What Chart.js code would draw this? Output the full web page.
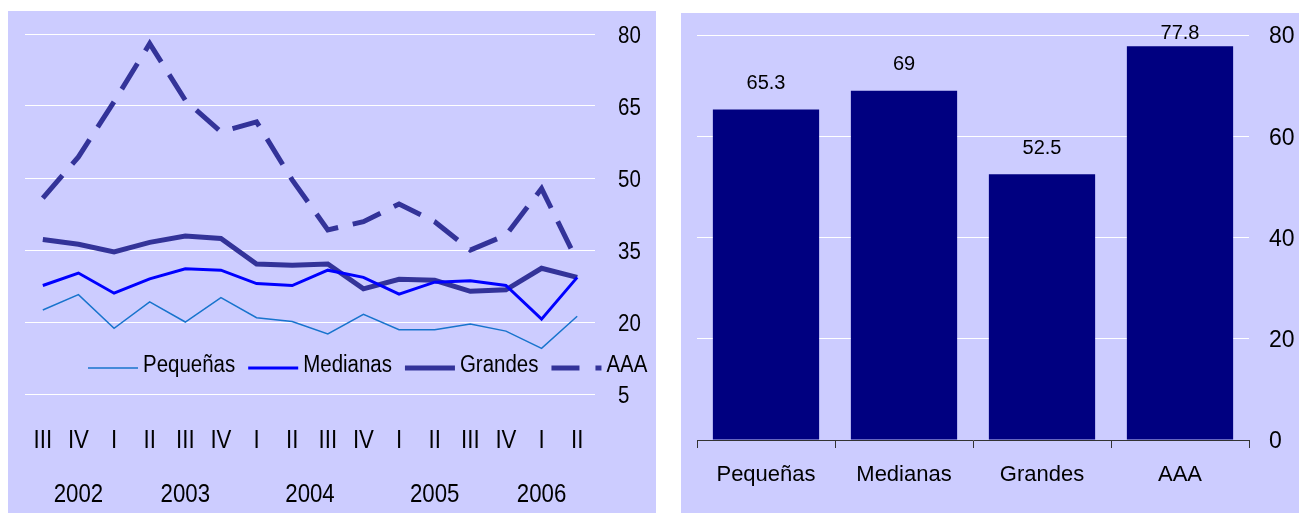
<!DOCTYPE html>
<html>
<head>
<meta charset="utf-8">
<script src="https://cdn.jsdelivr.net/npm/chart.js@4.4.1/dist/chart.umd.min.js"></script>
<style>
html, body { margin: 0; padding: 0; background: #fff; width: 1299px; height: 513px; overflow: hidden; }
.panel { position: absolute; background: #ccccff; }
#left { left: 8px; top: 11px; width: 648px; height: 502px; }
#right { left: 681px; top: 13px; width: 618px; height: 500px; }
canvas { display: block; }
</style>
</head>
<body>
<div class="panel" id="left"><canvas id="lines"></canvas></div>
<div class="panel" id="right"><canvas id="bars"></canvas></div>
<script>
// left chart: quarterly series
const quarters = ['III', 'IV', 'I', 'II', 'III', 'IV', 'I', 'II', 'III', 'IV', 'I', 'II', 'III', 'IV', 'I', 'II'];
const years = ['2002', '2003', '2004', '2005', '2006'];
const yearAt = [1, 4, 7.5, 11, 14];
const pequenas = [22.5, 25.7, 18.7, 24.2, 20.0, 25.1, 20.9, 20.1, 17.5, 21.6, 18.4, 18.4, 19.6, 18.1, 14.5, 21.2];
const medianas = [27.6, 30.2, 26.0, 29.0, 31.1, 30.8, 28.0, 27.6, 30.8, 29.3, 25.8, 28.3, 28.6, 27.6, 20.6, 29.3];
const grandes = [37.2, 36.2, 34.6, 36.6, 37.9, 37.4, 32.1, 31.8, 32.1, 26.9, 28.9, 28.7, 26.4, 26.7, 31.2, 29.3];
const aaa = [45.8, 54.4, 65.9, 78.0, 66.2, 59.6, 61.7, 49.6, 39.2, 40.9, 44.6, 40.9, 35.0, 38.1, 47.8, 32.7];
const leftTicks = [5, 20, 35, 50, 65, 80];

// right chart
const sizes = ['Pequeñas', 'Medianas', 'Grandes', 'AAA'];
const shares = [65.3, 69, 52.5, 77.8];

const SANS = '"Liberation Sans", Arial, sans-serif';
const DARK = '#333399';
const SQUEEZE = 0.89;   // left panel text is set narrower than plain Arial

Chart.defaults.animation = false;
Chart.defaults.color = '#000';
Chart.defaults.font.family = SANS;

// squeeze glyphs horizontally around their anchor point
const condense = {
    id: 'condense',
    beforeInit(chart) {
        const ctx = chart.ctx;
        const fill = ctx.fillText.bind(ctx);
        ctx.fillText = (text, x, y, maxWidth) => {
            ctx.save();
            ctx.translate(x, y);
            ctx.scale(SQUEEZE, 1);
            if (maxWidth === undefined) fill(text, 0, 0);
            else fill(text, 0, 0, maxWidth / SQUEEZE);
            ctx.restore();
        };
    }
};

const lineLegend = {
    id: 'lineLegend',
    afterDatasetsDraw(chart) {
        const { ctx, chartArea } = chart;
        const y = chartArea.bottom - 26;
        let x = chartArea.left + 63;
        ctx.save();
        ctx.font = `23px ${SANS}`;
        ctx.textBaseline = 'middle';
        chart.data.datasets.forEach(ds => {
            ctx.strokeStyle = ds.borderColor;
            ctx.lineWidth = ds.borderWidth;
            ctx.setLineDash(ds.borderDash ? [28, 16] : []);
            ctx.beginPath();
            ctx.moveTo(x, y);
            ctx.lineTo(x + 50, y);
            ctx.stroke();
            ctx.setLineDash([]);
            ctx.fillStyle = '#000';
            ctx.fillText(ds.label, x + 55, y - 2);
            x += 55 + ctx.measureText(ds.label).width * SQUEEZE + 13;
        });
        ctx.restore();
    }
};

const noPad = (s) => { s.paddingTop = 0; s.paddingBottom = 0; s.paddingLeft = 0; s.paddingRight = 0; };

new Chart(document.getElementById('lines'), {
    type: 'line',
    data: {
        labels: quarters,
        datasets: [
            { label: 'Pequeñas', data: pequenas, borderColor: '#1874cd', borderWidth: 1.5 },
            { label: 'Medianas', data: medianas, borderColor: '#0000ff', borderWidth: 3 },
            { label: 'Grandes', data: grandes, borderColor: DARK, borderWidth: 5 },
            { label: 'AAA', data: aaa, borderColor: DARK, borderWidth: 5, borderDash: [30, 15] }
        ]
    },
    options: {
        responsive: true,
        maintainAspectRatio: false,
        layout: { padding: { left: 17, top: 23, right: 0, bottom: 0 } },
        elements: { point: { radius: 0 }, line: { tension: 0, fill: false } },
        plugins: { legend: { display: false }, tooltip: { enabled: false } },
        scales: {
            x: {
                type: 'category',
                offset: true,
                grid: { display: false },
                border: { display: false },
                ticks: { font: { size: 25 }, padding: 24, maxRotation: 0, autoSkip: false },
                afterFit(s) { s.height = 62; noPad(s); }
            },
            years: {
                type: 'linear',
                position: 'bottom',
                weight: 1,
                min: -0.5,
                max: 15.5,
                grid: { display: false },
                border: { display: false },
                afterBuildTicks(s) { s.ticks = yearAt.map(v => ({ value: v })); },
                ticks: { callback: (v, i) => years[i], font: { size: 25 }, padding: 16, maxRotation: 0, autoSkip: false },
                afterFit(s) { s.height = 57; noPad(s); }
            },
            y: {
                position: 'right',
                min: 5,
                max: 80,
                afterBuildTicks(s) { s.ticks = leftTicks.map(v => ({ value: v })); },
                grid: { color: '#ffffff', lineWidth: 1, drawTicks: false },
                border: { display: false },
                ticks: { font: { size: 23 }, padding: 23, labelOffset: 3 },
                afterFit(s) { s.width = 61; noPad(s); }
            }
        }
    },
    plugins: [condense, lineLegend]
});

const barLabels = {
    id: 'barLabels',
    afterDatasetsDraw(chart) {
        const { ctx, chartArea } = chart;
        const meta = chart.getDatasetMeta(0);
        ctx.save();
        ctx.font = `20px ${SANS}`;
        ctx.fillStyle = '#000';
        ctx.textAlign = 'center';
        ctx.textBaseline = 'middle';
        meta.data.forEach((bar, i) => {
            const y = Math.max(bar.y - 26, chartArea.top - 2);
            ctx.fillText(String(chart.data.datasets[0].data[i]), bar.x, y);
        });
        ctx.restore();
    }
};

new Chart(document.getElementById('bars'), {
    type: 'bar',
    data: {
        labels: sizes,
        datasets: [{ data: shares, backgroundColor: '#000080', borderWidth: 0, barPercentage: 0.77, categoryPercentage: 1 }]
    },
    options: {
        responsive: true,
        maintainAspectRatio: false,
        layout: { padding: { left: 16, top: 22, right: 0, bottom: 0 } },
        plugins: { legend: { display: false }, tooltip: { enabled: false } },
        scales: {
            x: {
                grid: { display: true, drawOnChartArea: false, drawTicks: true, tickLength: 8, color: '#333333', offset: true },
                border: { display: true, color: '#333333', width: 1 },
                ticks: { font: { size: 22 }, padding: 14, maxRotation: 0 },
                afterFit(s) { s.height = 73; noPad(s); }
            },
            y: {
                position: 'right',
                min: 0,
                max: 80,
                ticks: { stepSize: 20, font: { size: 23 }, padding: 20, labelOffset: 2 },
                grid: { color: '#ffffff', lineWidth: 1, drawTicks: false },
                border: { display: false },
                afterFit(s) { s.width = 50; noPad(s); }
            }
        }
    },
    plugins: [barLabels]
});
</script>
</body>
</html>
